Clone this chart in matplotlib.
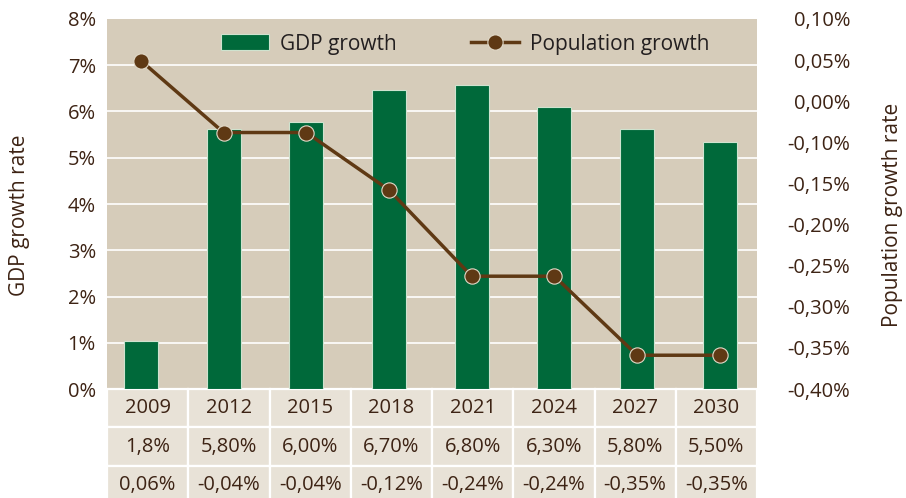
import numpy as np
import matplotlib
matplotlib.use('Agg')
import matplotlib.pyplot as plt
from matplotlib.lines import Line2D
from matplotlib.patches import Patch

years = ['2009', '2012', '2015', '2018', '2021', '2024', '2027', '2030']
gdp_growth = [1.03, 5.62, 5.78, 6.47, 6.57, 6.10, 5.62, 5.33]
pop_growth = [0.06, -0.04, -0.04, -0.12, -0.24, -0.24, -0.35, -0.35]
gdp_table = ['1,8%', '5,80%', '6,00%', '6,70%', '6,80%', '6,30%', '5,80%', '5,50%']
pop_table = ['0,06%', '-0,04%', '-0,04%', '-0,12%', '-0,24%', '-0,24%', '-0,35%', '-0,35%']
left_ticks = ['0%', '1%', '2%', '3%', '4%', '5%', '6%', '7%', '8%']
right_ticks = ['-0,40%', '-0,35%', '-0,30%', '-0,25%', '-0,20%',
               '-0,15%', '-0,10%', '0,00%', '0,05%', '0,10%']

BG = '#d6ccba'
CELL = '#e8e2d7'
GREEN = '#00693a'
BROWN = '#5f3914'
TXT = '#3d2314'

plt.rcParams['font.family'] = ['Open Sans', 'DejaVu Sans']

fig = plt.figure(figsize=(9.06, 4.98), dpi=100)
ax = fig.add_axes([107 / 906, 1 - 389 / 498, 650 / 906, 370 / 498])
ax.set_facecolor(BG)
for s in ax.spines.values():
    s.set_visible(False)

x = np.arange(len(years))
ax.bar(x, gdp_growth, width=0.41, color=GREEN, edgecolor='#cfe3cf',
       linewidth=0.8, zorder=3)
ax.set_xlim(-0.41, 7.45)
ax.set_ylim(0, 8)
ax.set_yticks(range(9))
ax.set_yticklabels(left_ticks)
ax.set_xticks([])
ax.tick_params(axis='y', length=0, pad=8, labelsize=14.5, labelcolor=TXT)
ax.yaxis.grid(True, color='white', linewidth=1.2, zorder=1)
ax.set_axisbelow(True)
ax.get_ygridlines()[-1].set_visible(False)
ax.set_ylabel('GDP growth rate', fontsize=15, color=TXT)
ax.yaxis.set_label_coords(-0.134, 0.47)
ax.yaxis.label.set_verticalalignment('center')

ax2 = ax.twinx()
for s in ax2.spines.values():
    s.set_visible(False)
lo, hi = -0.397, 0.118
ax2.plot(x, pop_growth, color=BROWN, linewidth=2.5, marker='o',
         markersize=11, markeredgecolor='#e2dac9', markeredgewidth=0.8,
         zorder=4)
ax2.set_ylim(lo, hi)
ax2.set_yticks(np.linspace(lo, hi, 10))
ax2.set_yticklabels(right_ticks)
ax2.tick_params(axis='y', length=0, pad=67, labelsize=14.5, labelcolor=TXT)
for lab in ax2.get_yticklabels():
    lab.set_horizontalalignment('right')
ax2.set_ylabel('Population growth rate', fontsize=15, color=TXT,
               rotation=90)
ax2.yaxis.set_label_coords(1.209, 0.47)
ax2.yaxis.label.set_verticalalignment('center')

# data table under the plot
h = 115 / 370
tbl = ax.table(cellText=[years, gdp_table, pop_table], cellLoc='center',
               bbox=[0, -h, 1, h])
tbl.auto_set_font_size(False)
for cell in tbl.get_celld().values():
    cell.set_facecolor(CELL)
    cell.set_edgecolor('white')
    cell.set_linewidth(1.6)
    cell.set_clip_on(False)
    cell.get_text().set_fontsize(14.5)
    cell.get_text().set_color(TXT)

handles = [Patch(facecolor=GREEN, edgecolor='#cfe3cf', linewidth=0.8),
           Line2D([], [], color=BROWN, linewidth=2.5, marker='o', markersize=11,
                  markeredgecolor='#e2dac9', markeredgewidth=0.8)]
leg = ax2.legend(handles, ['GDP growth', 'Population growth'], loc='center',
                 bbox_to_anchor=(0.551, 0.932), ncol=2, frameon=False,
                 fontsize=15, handlelength=2.3, handleheight=0.8,
                 handletextpad=0.5, columnspacing=3.6)
for t in leg.get_texts():
    t.set_color('#231f20')

fig.savefig('out.png', dpi=100)
